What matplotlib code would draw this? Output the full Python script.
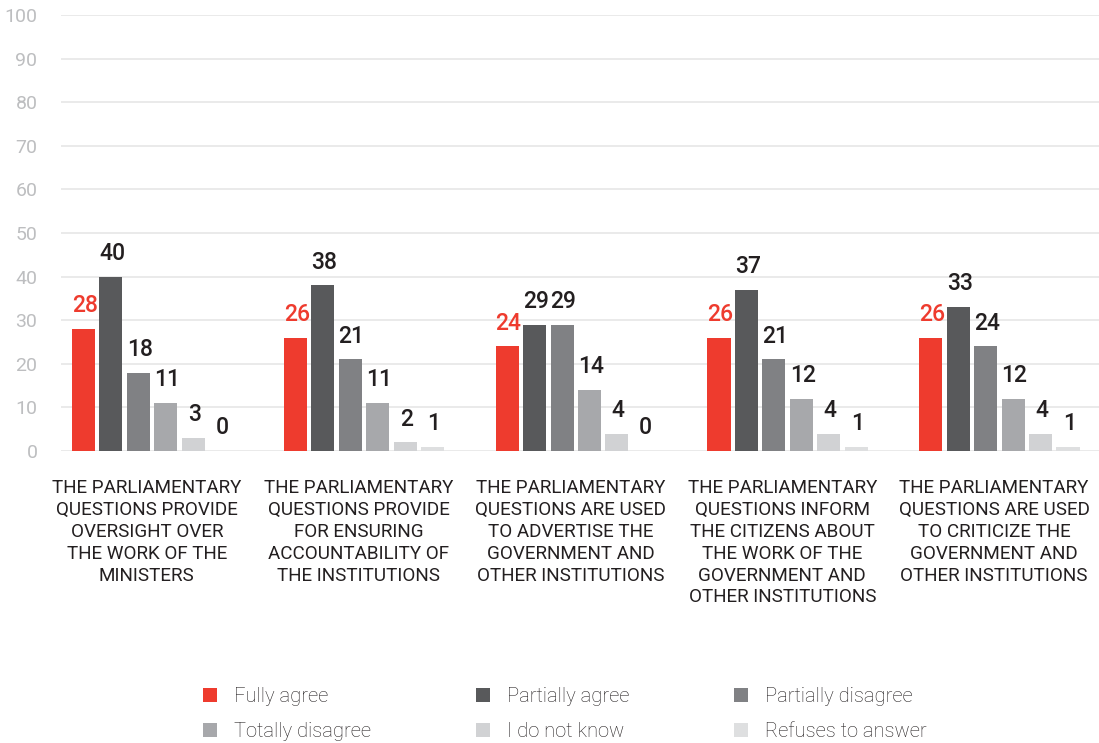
import matplotlib
matplotlib.use("Agg")
import matplotlib.pyplot as plt
from matplotlib.patches import Patch
import numpy as np

categories = [
    "THE PARLIAMENTARY\nQUESTIONS PROVIDE\nOVERSIGHT OVER\nTHE WORK OF THE\nMINISTERS",
    "THE PARLIAMENTARY\nQUESTIONS PROVIDE\nFOR ENSURING\nACCOUNTABILITY OF\nTHE INSTITUTIONS",
    "THE PARLIAMENTARY\nQUESTIONS ARE USED\nTO ADVERTISE THE\nGOVERNMENT AND\nOTHER INSTITUTIONS",
    "THE PARLIAMENTARY\nQUESTIONS INFORM\nTHE CITIZENS ABOUT\nTHE WORK OF THE\nGOVERNMENT AND\nOTHER INSTITUTIONS",
    "THE PARLIAMENTARY\nQUESTIONS ARE USED\nTO CRITICIZE THE\nGOVERNMENT AND\nOTHER INSTITUTIONS",
]
series_names = ["Fully agree", "Partially agree", "Partially disagree",
                "Totally disagree", "I do not know", "Refuses to answer"]
fully_agree = [28, 26, 24, 26, 26]
partially_agree = [40, 38, 29, 37, 33]
partially_disagree = [18, 21, 29, 21, 24]
totally_disagree = [11, 11, 14, 12, 12]
do_not_know = [3, 2, 4, 4, 4]
refuses = [0, 1, 0, 1, 1]
yticks = [0, 10, 20, 30, 40, 50, 60, 70, 80, 90, 100]

series = [fully_agree, partially_agree, partially_disagree,
          totally_disagree, do_not_know, refuses]
colors = ["#EE3B2E", "#58595B", "#808184", "#A7A8AB", "#D1D2D4", "#DEDFE0"]
label_colors = ["#EE3B2E"] + ["#231F20"] * 5

plt.rcParams['font.family'] = ['Roboto', 'DejaVu Sans']

fig = plt.figure(figsize=(10.99, 7.43), dpi=100)
W, H = 1099, 743
ax = fig.add_axes([61 / W, (H - 451) / H, (1099 - 61) / W, (451 - 15) / H])

x = np.arange(len(categories))
step = 0.1295
bw = 0.109
for j, (vals, c, lc) in enumerate(zip(series, colors, label_colors)):
    pos = x + (j - 2.5) * step
    bars = ax.bar(pos, vals, width=bw, color=c, zorder=2, label=series_names[j])
    for b, v in zip(bars, vals):
        ax.annotate(f"{v}", (b.get_x() + b.get_width() / 2, v),
                    xytext=(1, 12), textcoords="offset points",
                    ha="center", va="baseline", fontsize=16.5,
                    fontweight="medium", color=lc, zorder=3)

ax.set_xlim(-0.43, 4.47)
ax.set_ylim(0, 100)
ax.set_yticks(yticks)
ax.set_yticklabels([str(t) for t in yticks])
ax.tick_params(axis="y", length=0, pad=17, labelsize=14, labelcolor="#BDBEC0")
ax.set_xticks(x - 0.025)
ax.set_xticklabels(categories, fontsize=13.6, color="#231F20", linespacing=1.27)
ax.tick_params(axis="x", length=0, pad=20.5)
ax.grid(axis="y", color="#E6E6E6", linewidth=1.2, zorder=0)
ax.set_axisbelow(True)
for s in ax.spines.values():
    s.set_visible(False)

handles = [Patch(facecolor=c, edgecolor="none") for c in colors]
order = [0, 3, 1, 4, 2, 5]
leg = fig.legend([handles[i] for i in order], [series_names[i] for i in order],
                 ncol=3, loc="upper left", bbox_to_anchor=(203 / W, 1 - 687 / H),
                 frameon=False, fontsize=14.5, handlelength=0.7, handleheight=0.7,
                 handletextpad=0.85, columnspacing=5.2, labelspacing=0.8,
                 borderaxespad=0, borderpad=0)
for t in leg.get_texts():
    t.set_fontweight("light")
    t.set_color("#231F20")

fig.savefig("out.png", dpi=100)
